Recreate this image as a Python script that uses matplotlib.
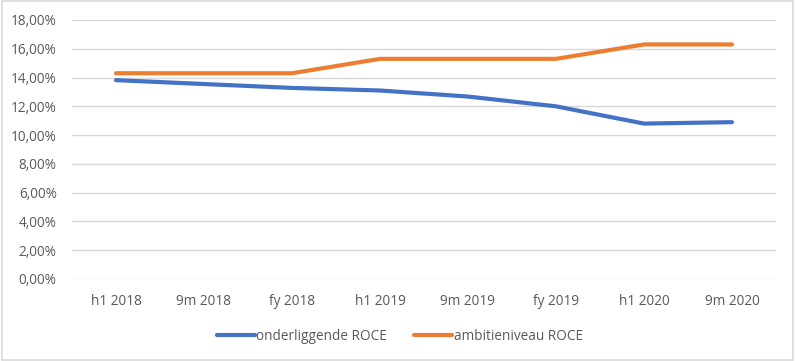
import matplotlib
matplotlib.use("Agg")
import matplotlib.pyplot as plt
from matplotlib.patches import Rectangle
from matplotlib.ticker import FuncFormatter, MultipleLocator

categories = ["h1 2018", "9m 2018", "fy 2018", "h1 2019", "9m 2019", "fy 2019", "h1 2020", "9m 2020"]
onderliggende = [13.82, 13.55, 13.28, 13.1, 12.68, 12.0, 10.8, 10.9]
ambitie = [14.3, 14.3, 14.3, 15.3, 15.3, 15.3, 16.3, 16.3]

plt.rcParams['font.family'] = ['Open Sans', 'DejaVu Sans']
txt = '#595959'

fig = plt.figure(figsize=(7.95, 3.61), dpi=100)
ax = fig.add_axes([72/795, 1-279/361, 704/795, 259/361])

x = list(range(len(categories)))
ax.plot(x, onderliggende, color='#4472C4', lw=3, solid_capstyle='round', label='onderliggende ROCE', zorder=3)
ax.plot(x, ambitie, color='#ED7D31', lw=3, solid_capstyle='round', label='ambitieniveau ROCE', zorder=3)

ax.set_xlim(-0.5, len(categories) - 0.5)
ax.set_ylim(0, 18)
ax.yaxis.set_major_locator(MultipleLocator(2))
ax.yaxis.set_major_formatter(FuncFormatter(lambda v, p: f"{v:.2f}".replace('.', ',') + '%'))
ax.set_xticks(x)
ax.set_xticklabels(categories)
ax.grid(axis='y', color='#D9D9D9', lw=1)
ax.set_axisbelow(True)
for s in ax.spines.values():
    s.set_visible(False)
ax.tick_params(axis='both', length=0, colors=txt, labelsize=9.8)
ax.tick_params(axis='x', pad=11)
ax.tick_params(axis='y', pad=11)

leg = fig.legend(loc='center', bbox_to_anchor=(0.503, 1-336/361), ncol=2, frameon=False,
                 fontsize=9.8, handlelength=2.8, handletextpad=0.1, columnspacing=2.0)
for t in leg.get_texts():
    t.set_color(txt)

fig.patches.append(Rectangle((0.002, 0.003), 0.995, 0.993, transform=fig.transFigure,
                             fill=False, edgecolor='#D9D9D9', lw=1.2))
fig.savefig('out.png', dpi=100)
